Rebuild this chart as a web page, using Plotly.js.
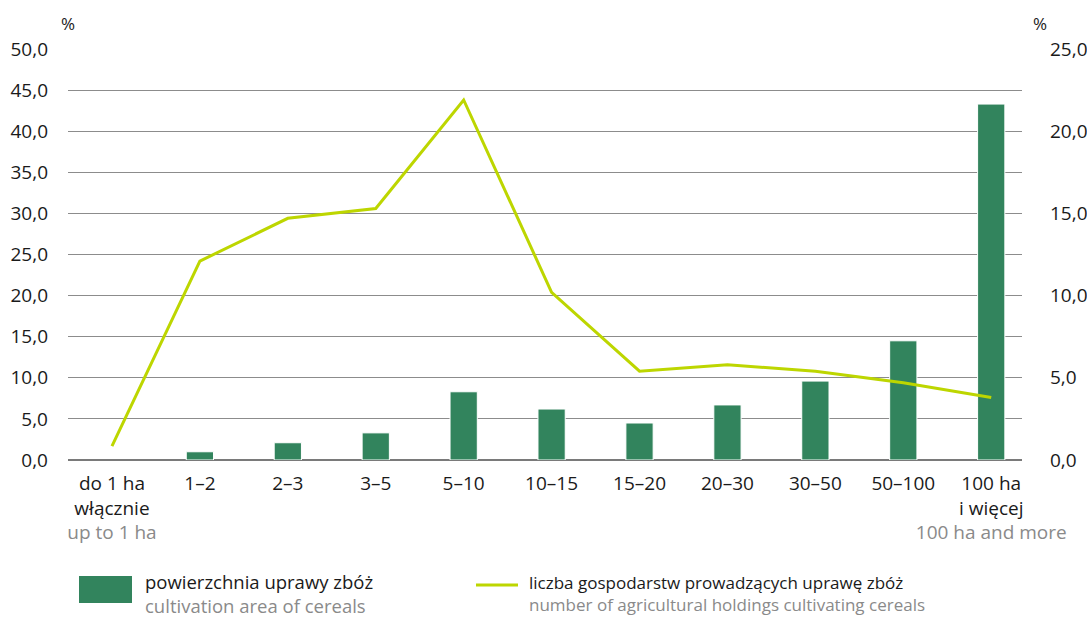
<!DOCTYPE html>
<html><head><meta charset="utf-8">
<script src="https://cdn.plot.ly/plotly-3.0.1.min.js"></script>
<style>body{margin:0;background:#fff}#c{width:1087px;height:620px}</style>
</head><body><div id="c"></div>
<script>
const categories = ["do 1 ha<br>włącznie<br><span style='color:#8a8a8a'>up to 1 ha</span>","1–2","2–3","3–5","5–10","10–15","15–20","20–30","30–50","50–100","100 ha<br>i więcej<br><span style='color:#8a8a8a'>100 ha and more</span>"];
const areaShare = [0, 1.0, 2.1, 3.3, 8.3, 6.2, 4.5, 6.7, 9.6, 14.5, 43.3];
const holdingsShare = [0.85, 12.1, 14.7, 15.3, 21.9, 10.2, 5.4, 5.8, 5.4, 4.7, 3.8];
const leftTicks = [0,5,10,15,20,25,30,35,40,45,50];
const rightTicks = [0,5,10,15,20,25];
const legendPL = ["powierzchnia uprawy zbóż","liczba gospodarstw prowadzących uprawę zbóż"];
const legendEN = ["cultivation area of cereals","number of agricultural holdings cultivating cereals"];

const xIdx = categories.map((_, i) => i);
const font = "Open Sans, Noto Sans, sans-serif";
const W = 1087, H = 620, L = 68, R = 65, T = 49, B = 160;
const px = x => (x - L) / (W - L - R);
const py = y => 1 - (y - T) / (H - T - B);

const traces = [
  {type:"bar", x:xIdx, y:areaShare, width:0.31, marker:{color:"#32845d", line:{color:"#ffffff", width:areaShare.map(v => v > 0 ? 1 : 0)}}, yaxis:"y", hoverinfo:"y"},
  {type:"scatter", mode:"lines", x:xIdx, y:holdingsShare, line:{color:"#bdd600", width:3}, yaxis:"y2", hoverinfo:"y"}
];

const legendText = (i) => legendPL[i] + "<br><span style='color:#8a8a8a'>" + legendEN[i] + "</span>";

const layout = {
  width:W, height:H, margin:{l:L, r:R, t:T, b:B},
  paper_bgcolor:"#fff", plot_bgcolor:"#fff", showlegend:false,
  separators:", ",
  font:{family:font, size:19, color:"#1a1a1a"},
  xaxis:{range:[-0.5,10.35], tickmode:"array", tickvals:xIdx, ticktext:categories, tickangle:0, showgrid:false, zeroline:false, showline:false, ticks:"", tickfont:{size:19}, ticklabelstandoff:10, fixedrange:true},
  yaxis:{range:[0,50], tickmode:"array", tickvals:leftTicks, tickformat:".1f", showgrid:true, gridcolor:"#8c8c8c", gridwidth:1, zeroline:true, zerolinecolor:"#7a7a7a", zerolinewidth:1.5, showline:false, ticks:"", ticklabelstandoff:19},
  yaxis2:{range:[0,25], overlaying:"y", side:"right", tickmode:"array", tickvals:rightTicks, tickformat:".1f", showgrid:false, zeroline:false, showline:false, ticks:"", ticklabelstandoff:27},
  annotations:[
    {xref:"paper", yref:"paper", x:px(68), y:py(23), text:"%", showarrow:false, xanchor:"center", yanchor:"middle", font:{size:17}},
    {xref:"paper", yref:"paper", x:px(1040), y:py(23), text:"%", showarrow:false, xanchor:"center", yanchor:"middle", font:{size:17}},
    {xref:"paper", yref:"paper", x:px(144), y:py(593), text:legendText(0), showarrow:false, xanchor:"left", yanchor:"middle", align:"left", borderpad:0, font:{size:18.5, color:"#1a1a1a"}},
    {xref:"paper", yref:"paper", x:px(528), y:py(593), text:legendText(1), showarrow:false, xanchor:"left", yanchor:"middle", align:"left", borderpad:0, font:{size:17, color:"#1a1a1a"}}
  ],
  shapes:[
    {type:"rect", xref:"paper", yref:"paper", x0:px(79), x1:px(132), y0:py(576), y1:py(603), fillcolor:"#32845d", line:{width:0}},
    {type:"line", xref:"paper", yref:"paper", x0:px(476), x1:px(518), y0:py(585), y1:py(585), line:{color:"#bdd600", width:3}}
  ]
};
Plotly.newPlot("c", traces, layout, {displayModeBar:false, staticPlot:true});
</script></body></html>
